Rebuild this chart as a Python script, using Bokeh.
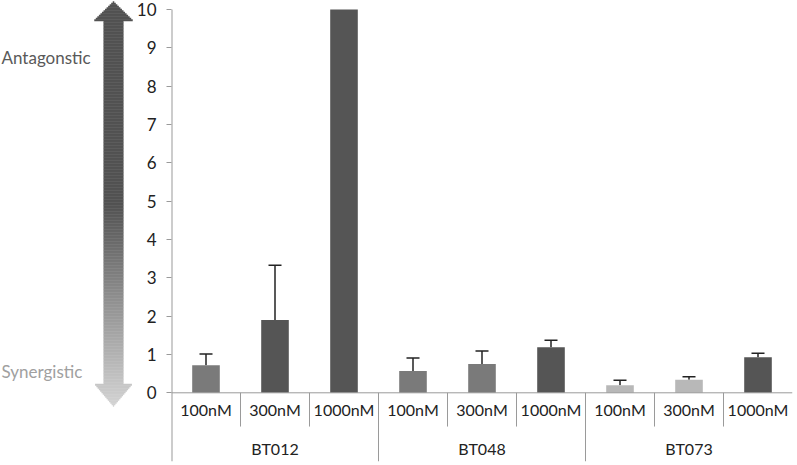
from bokeh.plotting import figure
from bokeh.models import Range1d, ColumnDataSource, Whisker, TeeHead, Span, FixedTicker
from bokeh.layouts import row
from bokeh.embed import file_html
from bokeh.resources import INLINE
from bokeh.core.properties import value

# ---- data ----
groups = ["BT012", "BT012", "BT012", "BT048", "BT048", "BT048", "BT073", "BT073", "BT073"]
concs = ["100nM", "300nM", "1000nM", "100nM", "300nM", "1000nM", "100nM", "300nM", "1000nM"]
values = [0.72, 1.9, 10.0, 0.57, 0.75, 1.19, 0.2, 0.34, 0.93]
errors = [0.29, 1.43, 0.0, 0.34, 0.34, 0.18, 0.13, 0.08, 0.1]
y_ticks = [0, 1, 2, 3, 4, 5, 6, 7, 8, 9, 10]
label_top = "Antagonstic"
label_bottom = "Synergistic"

# ---- styles ----
bar_colors = ["#7a7a7a", "#555555", "#555555", "#7a7a7a", "#7a7a7a", "#555555", "#b8b8b8", "#b8b8b8", "#555555"]
FONT = "Lato"
H = 463
W1 = 133
W2 = 795 - W1
OFF = 2  # page offset of the canvas
Y_MIN = -1.792
Y_MAX = 10.235
Y_TOP = max(y_ticks)

# ---- left arrow panel ----
FH = H - 2
pa = figure(width=W1, height=H, x_range=Range1d(0, W1), y_range=Range1d(FH, 0),
            x_axis_location=None, y_axis_location=None, toolbar_location=None,
            output_backend="svg", min_border_left=0, min_border_right=0,
            min_border_top=0, min_border_bottom=2, outline_line_color=None)
pa.grid.visible = False
cx = 113
tip_t, base_t = 1.0, 20.0
base_b, tip_b = 383.0, 406.0
shaft = 10.0
head = 19.5
step = 1.5
ys = []
y = tip_t
while y < tip_b:
    ys.append(y)
    y += step
L, R, T, B, C = [], [], [], [], []
for yy in ys:
    ym = yy + step / 2
    if ym < base_t:
        hw = head * (ym - tip_t) / (base_t - tip_t)
    elif ym < base_b:
        hw = shaft
    else:
        hw = head * (tip_b - ym) / (tip_b - base_b)
    page_y = ym + OFF
    if page_y < 205:
        g = 82
    else:
        g = int(82 + (212 - 82) * min(1.0, (page_y - 205) / (408 - 205)))
    col = "#%02x%02x%02x" % (g, g, g)
    L.append(cx - hw)
    R.append(cx + hw)
    T.append(yy - 0.3)
    B.append(yy + step + 0.3)
    C.append(col)
pa.quad(left=L, right=R, top=T, bottom=B, fill_color=C, line_color=None)
pa.text(x=[1], y=[57], text=[label_top], text_font=value(FONT), text_font_size="17px",
        text_color="#595959", text_baseline="alphabetic", text_align="left")
pa.text(x=[1], y=[371], text=[label_bottom], text_font=value(FONT), text_font_size="17px",
        text_color="#a0a0a0", text_baseline="alphabetic", text_align="left")

# ---- main chart ----
n = len(values)
xs = [i + 0.5 for i in range(n)]
p = figure(width=W2, height=H, x_range=Range1d(0, n), y_range=Range1d(Y_MIN, Y_MAX),
           x_axis_location=None, toolbar_location=None, output_backend="svg",
           min_border_left=35, min_border_right=3, min_border_top=0, min_border_bottom=2,
           outline_line_color=None)
p.grid.visible = False
p.yaxis.ticker = FixedTicker(ticks=y_ticks)
p.yaxis.axis_line_color = None
p.yaxis.major_tick_line_color = "#9a9a9a"
p.yaxis.minor_tick_line_color = None
p.yaxis.major_tick_out = 5
p.yaxis.major_tick_in = 0
p.yaxis.major_label_standoff = 10
p.yaxis.major_label_text_font = FONT
p.yaxis.major_label_text_font_size = "17px"
p.yaxis.major_label_text_color = "#222222"

# left axis line from the bottom of the table up to the top tick
p.segment(x0=[0], x1=[0], y0=[Y_MIN], y1=[Y_TOP], line_color="#9a9a9a", line_width=2)

src = ColumnDataSource(dict(x=xs, top=values, color=bar_colors))
p.vbar(x="x", top="top", bottom=0, width=0.4, fill_color="color", line_color=None, source=src)

wx = [xs[i] for i in range(n) if errors[i] > 0]
wl = [values[i] for i in range(n) if errors[i] > 0]
wu = [values[i] + errors[i] for i in range(n) if errors[i] > 0]
wsrc = ColumnDataSource(dict(x=wx, lower=wl, upper=wu))
p.add_layout(Whisker(source=wsrc, base="x", lower="lower", upper="upper",
                     lower_head=None,
                     upper_head=TeeHead(size=13, line_color="#222222", line_width=1.5),
                     line_color="#222222", line_width=1.5))

p.add_layout(Span(location=0, dimension="width", line_color="#9a9a9a", line_width=1))

sx, sy0, sy1 = [], [], []
for i in range(1, n):
    sx.append(i)
    sy0.append(0)
    sy1.append(Y_MIN if groups[i] != groups[i - 1] else -0.88)
p.segment(x0=sx, x1=sx, y0=sy0, y1=sy1, line_color="#9a9a9a", line_width=1)

p.text(x=xs, y=[-0.43] * n, text=concs, text_font=value(FONT), text_font_size="16px",
       text_color="#222222", text_align="center", text_baseline="middle")

gnames = []
for g in groups:
    if g not in gnames:
        gnames.append(g)
gx = [sum(xs[i] for i in range(n) if groups[i] == g) / groups.count(g) for g in gnames]
p.text(x=gx, y=[-1.45] * len(gnames), text=gnames, text_font=value(FONT), text_font_size="16px",
       text_color="#222222", text_align="center", text_baseline="middle")

layout = row(pa, p)
open("out.html", "w").write(file_html(layout, INLINE))
